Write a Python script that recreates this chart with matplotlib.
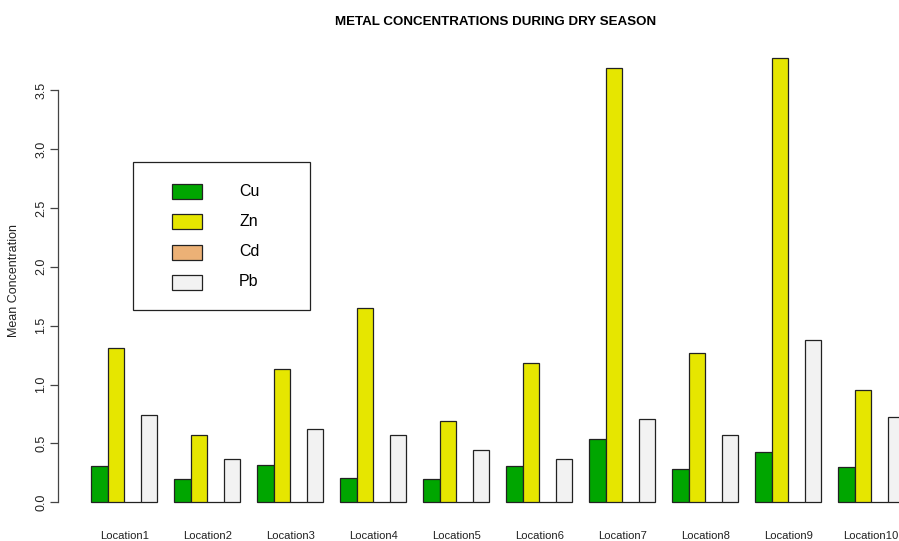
import matplotlib
matplotlib.use("Agg")
import matplotlib.pyplot as plt
import numpy as np
from matplotlib.patches import Rectangle

plt.rcParams['font.family'] = ['Liberation Sans', 'DejaVu Sans']

locations = ["Location1", "Location2", "Location3", "Location4", "Location5",
             "Location6", "Location7", "Location8", "Location9", "Location10"]
metals = ["Cu", "Zn", "Cd", "Pb"]
cu = [0.31, 0.20, 0.32, 0.21, 0.20, 0.31, 0.54, 0.28, 0.43, 0.30]
zn = [1.31, 0.57, 1.13, 1.65, 0.69, 1.18, 3.69, 1.27, 3.77, 0.95]
cd = [0.0, 0.0, 0.0, 0.0, 0.0, 0.0, 0.0, 0.0, 0.0, 0.0]
pb = [0.74, 0.37, 0.62, 0.57, 0.44, 0.37, 0.71, 0.57, 1.38, 0.72]
colors = ["#00A600", "#E6E600", "#ECB176", "#F2F2F2"]
yticks = [0.0, 0.5, 1.0, 1.5, 2.0, 2.5, 3.0, 3.5]

W, H = 899, 541
fig = plt.figure(figsize=(W / 100, H / 100), dpi=100)
ax = fig.add_axes([58.5 / W, 1 - 520 / H, (937 - 58.5) / W, (520 - 40.6) / H])

series = [cu, zn, cd, pb]
n = len(locations)
group_start = 1 + 5 * np.arange(n)  # R barplot beside=TRUE, space=c(0,1)
for k, vals in enumerate(series):
    ax.bar(group_start + k, vals, width=1.0, align='edge', color=colors[k],
           edgecolor='#222222', linewidth=0.9)

ymax = max(max(s) for s in series)
ax.set_xlim(1 - 0.04 * 49, 50 + 0.04 * 49)
ax.set_ylim(-0.04 * ymax, ymax * 1.04)

for s in ['top', 'right', 'bottom']:
    ax.spines[s].set_visible(False)
ax.spines['left'].set_bounds(0, 3.5)
ax.spines['left'].set_color('#444444')
ax.spines['left'].set_linewidth(0.9)

ax.set_yticks(yticks)
ax.set_yticklabels([f"{v:.1f}" for v in yticks], rotation=90, va='center', fontsize=9, color='#222222')
ax.tick_params(axis='y', length=6, width=0.9, color='#444444', pad=2)

ax.set_xticks(group_start + 2)
ax.set_xticklabels(locations, fontsize=8.1, color='#222222')
ax.tick_params(axis='x', length=0, pad=8)

ax.set_ylabel("Mean Concentration", fontsize=9, color='#222222', labelpad=11)
fig.text(496 / W, 1 - 22 / H, "METAL CONCENTRATIONS DURING DRY SEASON",
         ha='center', va='center', fontsize=9.6, fontweight='bold')

# legend box (pixel coordinates from top-left)
def px(x, y):
    return (x / W, 1 - y / H)

x0, y0 = px(133, 310)
x1, y1 = px(310, 162)
fig.patches.append(Rectangle((x0, y0), x1 - x0, y1 - y0, transform=fig.transFigure,
                             facecolor='white', edgecolor='#222222', linewidth=0.9, zorder=5))
ys = [191, 222, 252, 282]
for k, m in enumerate(metals):
    rx, ry = px(172, ys[k] + 7.5)
    fig.patches.append(Rectangle((rx, ry), 30 / W, 15 / H, transform=fig.transFigure,
                                 facecolor=colors[k], edgecolor='#222222', linewidth=0.9, zorder=6))
    tx, ty = px(239, ys[k])
    fig.text(tx, ty, m, ha='left', va='center', fontsize=11.5, zorder=7)

fig.savefig("out.png", dpi=100)
